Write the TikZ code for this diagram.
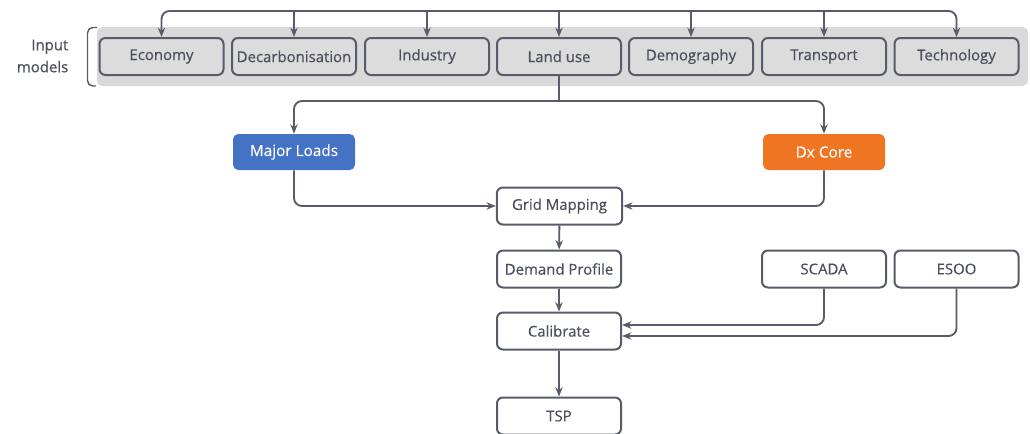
\documentclass[tikz,border=0pt]{standalone}
\usepackage{fontspec}
\setmainfont{Open Sans}
\newfontfamily\mf[FakeBold=0.4]{Open Sans}
\usetikzlibrary{arrows.meta,calc}
\definecolor{ln}{HTML}{575C68}
\definecolor{tx}{HTML}{4A4F5A}
\definecolor{band}{HTML}{D9D9D9}
\definecolor{bfill}{HTML}{DCDCDC}
\definecolor{blueb}{HTML}{4472C4}
\definecolor{orangeb}{HTML}{F07522}
\begin{document}
\begin{tikzpicture}[x=0.75pt,y=-0.75pt,
  box/.style={draw=ln,line width=1.5pt,rounded corners=4.5pt,minimum width=93pt,minimum height=27.75pt,inner sep=0pt,text=tx,font=\mf\fontsize{11.2}{12}\selectfont},
  inbox/.style={box,fill=bfill},
  colbox/.style={rounded corners=4pt,minimum width=91.5pt,minimum height=27pt,inner sep=0pt,text=white,font=\mf\fontsize{11.5}{13}\selectfont},
  conn/.style={draw=ln,line width=1.4pt,rounded corners=6pt},
  arr/.style={conn,-{Stealth[length=7pt,width=5.5pt]}}]
\useasboundingbox (0,0) rectangle (1030,433);
\begin{scope}
\clip (0,0) rectangle (1030,433);
% band
\fill[band,rounded corners=4pt] (97,27) rectangle (1028,86);
\draw[ln,line width=1.1pt,rounded corners=4pt] (97,27.5) -- (87.5,27.5) -- (87.5,86) -- (96,86);
\node[text=tx,align=right,anchor=east,font=\mf\fontsize{11.2}{16.5}\selectfont] (lbl) at (73,56) {Input\\models};
% input models
\node[inbox] (eco) at (161.5,56.5) {Economy};
\node[inbox] (dec) at (294,56.5) {Decarbonisation};
\node[inbox] (ind) at (427,56.5) {Industry};
\node[inbox] (land) at (559,56.5) {Land use};
\node[inbox] (dem) at (691,56.5) {Demography};
\node[inbox] (tra) at (824,56.5) {Transport};
\node[inbox] (tec) at (956.5,56.5) {Technology};
\coordinate (top) at (559,11);
\draw[arr] (top) -| (eco);
\draw[arr] (top) -| (tec);
\draw[arr] (dec.north |- top) -- (dec);
\draw[arr] (ind.north |- top) -- (ind);
\draw[arr] (land.north |- top) -- (land);
\draw[arr] (dem.north |- top) -- (dem);
\draw[arr] (tra.north |- top) -- (tra);
% second level
\node[colbox,fill=blueb] (major) at (294,152) {Major Loads};
\node[colbox,fill=orangeb] (dx) at (824,152) {Dx Core};
\coordinate (split) at (559,101);
\draw[conn] (land) -- (split);
\draw[arr] (split) -| (major);
\draw[arr] (split) -| (dx);
% chain
\node[box,minimum width=94pt] (grid) at (559.5,206) {Grid Mapping};
\node[box] (dp) at (559,269) {Demand Profile};
\node[box] (cal) at (559,331) {Calibrate};
\node[box] (tsp) at (559,416) {TSP};
\node[box] (scada) at (824,269) {SCADA};
\node[box] (esoo) at (956.5,269) {ESOO};
\draw[arr] (major) |- (grid);
\draw[arr] (dx) |- (grid);
\draw[arr] (grid) -- (dp);
\draw[arr] (dp) -- (cal);
\draw[arr] (cal) -- (tsp);
\draw[arr] (scada) |- ([yshift=4.5pt]cal.east);
\draw[arr] (esoo) |- ([yshift=-3.75pt]cal.east);
\end{scope}
\end{tikzpicture}
\end{document}
